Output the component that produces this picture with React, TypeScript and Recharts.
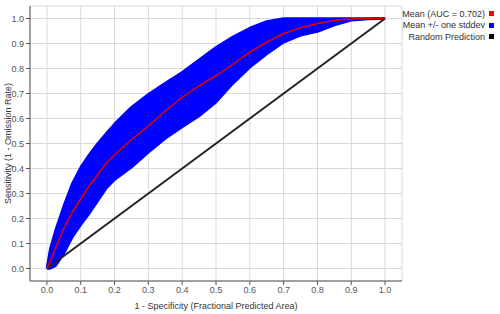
import {
  ComposedChart, Area, Line, XAxis, YAxis, CartesianGrid,
} from "recharts";

// fractional predicted area (1 - specificity)
const fpr = [0, 0.01, 0.025, 0.05, 0.075, 0.1, 0.125, 0.15, 0.175, 0.2, 0.25, 0.3, 0.35, 0.4, 0.45, 0.5, 0.55, 0.6, 0.65, 0.7, 0.75, 0.8, 0.85, 0.9, 0.95, 1.0];
const meanTpr = [0, 0.03, 0.08, 0.16, 0.225, 0.278, 0.33, 0.375, 0.42, 0.455, 0.515, 0.57, 0.63, 0.685, 0.73, 0.772, 0.817, 0.865, 0.905, 0.94, 0.963, 0.98, 0.992, 0.998, 1.0, 1.0];
const upperTpr = [0, 0.08, 0.15, 0.25, 0.34, 0.405, 0.455, 0.5, 0.54, 0.578, 0.645, 0.697, 0.742, 0.785, 0.835, 0.885, 0.927, 0.962, 0.988, 1.0, 1.0, 1.0, 1.0, 1.0, 1.0, 1.0];
const lowerTpr = [0, 0, 0.01, 0.06, 0.125, 0.175, 0.22, 0.27, 0.32, 0.355, 0.405, 0.465, 0.52, 0.566, 0.61, 0.665, 0.74, 0.805, 0.858, 0.905, 0.933, 0.948, 0.974, 0.993, 0.998, 1.0];

const randomFpr = [0, 1];
const randomTpr = [0, 1];

const axisTicks = [0, 0.1, 0.2, 0.3, 0.4, 0.5, 0.6, 0.7, 0.8, 0.9, 1.0];

const legendItems = [
  { name: "Mean (AUC = 0.702)", color: "#ff0000" },
  { name: "Mean +/- one stddev", color: "#0000ff" },
  { name: "Random Prediction", color: "#000000" },
];

const FONT = "'Liberation Sans', Arial, sans-serif";
const AXIS = "#555";

const rocData = fpr.map((x, i) => ({
  x,
  mean: meanTpr[i],
  band: [lowerTpr[i], upperTpr[i]],
}));
const randomData = randomFpr.map((x, i) => ({ x, random: randomTpr[i] }));

const tickStyle = { fontSize: 9, fill: AXIS, fontFamily: FONT };
const fmt = (v: number) => v.toFixed(1);

export default function App() {
  return (
    <div style={{ position: "absolute", left: 0, top: 0, width: 500, height: 314, background: "#fff" }}>
      <ComposedChart
        width={500}
        height={314}
        data={rocData}
        margin={{ top: 6, right: 98, bottom: 0, left: 0 }}
      >
        <CartesianGrid stroke="#d9d9d9" strokeWidth={1} />
        <XAxis
          dataKey="x"
          type="number"
          domain={[-0.05, 1.05]}
          ticks={axisTicks}
          tickFormatter={fmt}
          tick={tickStyle}
          tickSize={4}
          tickMargin={2}
          height={33}
          stroke={AXIS}
          allowDataOverflow
          label={{ value: "1 - Specificity (Fractional Predicted Area)", position: "insideBottom", offset: 5, style: { fontSize: 9, fill: "#333", fontFamily: FONT } }}
        />
        <XAxis xAxisId="top" orientation="top" type="number" domain={[-0.05, 1.05]} ticks={axisTicks} tick={false} tickLine={false} height={0} stroke={AXIS} allowDataOverflow />
        <YAxis
          type="number"
          domain={[-0.05, 1.05]}
          ticks={axisTicks}
          tickFormatter={fmt}
          tick={tickStyle}
          tickSize={4}
          tickMargin={2}
          width={30}
          stroke={AXIS}
          allowDataOverflow
          label={{ value: "Sensitivity (1 - Omission Rate)", angle: -90, position: "insideLeft", offset: 8, style: { textAnchor: "middle", fontSize: 9, fill: "#333", fontFamily: FONT } }}
        />
        <YAxis yAxisId="right" orientation="right" type="number" domain={[-0.05, 1.05]} ticks={axisTicks} tickFormatter={() => ""} mirror tickSize={4} width={0} stroke={AXIS} allowDataOverflow />
        <Line
          data={randomData}
          dataKey="random"
          type="linear"
          stroke="#222"
          strokeWidth={2}
          dot={false}
          isAnimationActive={false}
        />
        <Area
          dataKey="band"
          type="linear"
          fill="#0000ff"
          fillOpacity={1}
          stroke="#0000ff"
          strokeWidth={2.5}
          strokeLinejoin="round"
          isAnimationActive={false}
        />
        <Line
          dataKey="mean"
          type="linear"
          stroke="#e60000"
          strokeWidth={1.5}
          dot={false}
          isAnimationActive={false}
        />
      </ComposedChart>
      <div style={{ position: "absolute", left: 400, top: 8, width: 94, fontFamily: FONT, fontSize: 9, color: "#333" }}>
        {legendItems.map((it) => (
          <div key={it.name} style={{ display: "flex", justifyContent: "flex-end", alignItems: "center", height: 11.5 }}>
            <span>{it.name}</span>
            <span style={{ display: "inline-block", width: 5, height: 5, background: it.color, marginLeft: 4 }} />
          </div>
        ))}
      </div>
    </div>
  );
}
